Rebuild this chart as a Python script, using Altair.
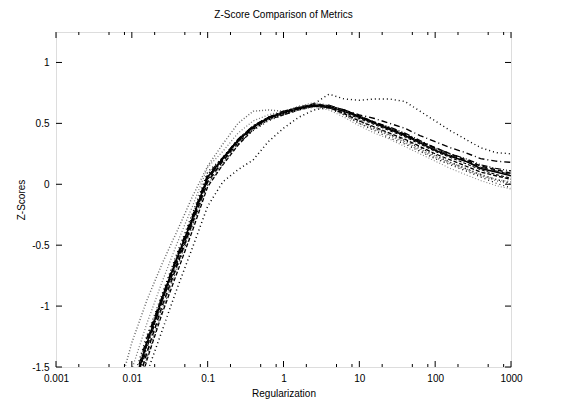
import altair as alt
import pandas as pd

# Regularization values (log-spaced)
reg = [0.00631, 0.01, 0.01585, 0.02512, 0.03981, 0.0631, 0.1, 0.1585, 0.2512,
       0.3981, 0.631, 1, 1.585, 2.512, 3.981, 6.31, 10, 15.85, 25.12, 39.81,
       63.1, 100, 158.5, 251.2, 398.1, 631.0, 1000]

m1 = [-2.15,-1.72,-1.30,-0.94,-0.60,-0.28,0.06,0.21,0.36,0.47,0.54,0.58,0.62,0.65,0.64,0.60,0.55,0.50,0.45,0.40,0.34,0.28,0.23,0.19,0.13,0.10,0.07]
m2 = [-2.25,-1.80,-1.38,-1.00,-0.66,-0.32,0.02,0.19,0.34,0.46,0.54,0.59,0.63,0.66,0.64,0.61,0.56,0.51,0.46,0.41,0.35,0.30,0.25,0.20,0.15,0.12,0.09]
m3 = [-2.30,-1.95,-1.55,-1.20,-0.85,-0.52,-0.18,0.02,0.12,0.20,0.35,0.46,0.55,0.61,0.63,0.58,0.52,0.46,0.41,0.36,0.30,0.24,0.18,0.13,0.08,0.04,0.01]
m4 = [-1.75,-1.30,-0.95,-0.65,-0.38,-0.10,0.15,0.33,0.50,0.60,0.61,0.60,0.63,0.66,0.63,0.57,0.50,0.45,0.40,0.34,0.28,0.22,0.17,0.12,0.07,0.03,0.00]
m5 = [-2.05,-1.64,-1.24,-0.90,-0.56,-0.24,0.10,0.22,0.37,0.48,0.55,0.59,0.63,0.66,0.74,0.70,0.69,0.70,0.70,0.68,0.60,0.52,0.44,0.37,0.30,0.26,0.25]
m6 = [-2.09,-1.68,-1.26,-0.92,-0.58,-0.26,0.08,0.22,0.37,0.48,0.55,0.60,0.63,0.65,0.64,0.61,0.57,0.54,0.50,0.46,0.40,0.35,0.30,0.26,0.21,0.19,0.18]
m7 = [-2.35,-1.88,-1.44,-1.06,-0.72,-0.38,-0.02,0.16,0.32,0.45,0.53,0.57,0.61,0.64,0.63,0.58,0.52,0.47,0.42,0.37,0.31,0.25,0.20,0.15,0.10,0.07,0.04]
m8 = [-1.95,-1.52,-1.14,-0.80,-0.48,-0.18,0.14,0.27,0.42,0.52,0.57,0.60,0.64,0.67,0.65,0.60,0.53,0.47,0.41,0.35,0.29,0.23,0.18,0.13,0.08,0.04,0.02]
m9 = [-2.21,-1.76,-1.34,-0.96,-0.64,-0.30,0.04,0.20,0.35,0.47,0.55,0.59,0.62,0.64,0.63,0.60,0.56,0.51,0.47,0.42,0.36,0.30,0.25,0.21,0.16,0.13,0.11]
m10 = [-2.29,-1.84,-1.42,-1.04,-0.68,-0.34,0.00,0.17,0.33,0.44,0.52,0.57,0.61,0.64,0.62,0.57,0.50,0.44,0.38,0.33,0.27,0.21,0.16,0.11,0.06,0.01,-0.03]
m11 = [-2.17,-1.74,-1.32,-0.96,-0.62,-0.30,0.04,0.21,0.36,0.47,0.55,0.60,0.63,0.65,0.63,0.59,0.54,0.49,0.44,0.39,0.33,0.27,0.22,0.17,0.12,0.08,0.05]
m12 = [-2.33,-1.86,-1.42,-1.02,-0.68,-0.34,0.00,0.17,0.34,0.45,0.53,0.58,0.61,0.63,0.61,0.55,0.48,0.42,0.37,0.31,0.25,0.19,0.13,0.08,0.03,-0.01,-0.04]
m13 = [-2.13,-1.70,-1.28,-0.92,-0.60,-0.28,0.06,0.22,0.37,0.48,0.55,0.59,0.62,0.65,0.65,0.61,0.56,0.51,0.46,0.41,0.35,0.29,0.24,0.19,0.14,0.11,0.08]

series_names = ["m1","m2","m3","m4","m5","m6","m7","m8","m9","m10","m11","m12","m13"]
series_vals = [m1,m2,m3,m4,m5,m6,m7,m8,m9,m10,m11,m12,m13]

x_major = [0.001, 0.01, 0.1, 1, 10, 100, 1000]
x_minor = [0.002, 0.005, 0.008, 0.02, 0.05, 0.08, 0.2, 0.5, 0.8, 2, 5, 8, 20, 50, 80, 200, 500, 800]
y_major = [-1.5, -1, -0.5, 0, 0.5, 1]

rows = []
for n, vals in zip(series_names, series_vals):
    for xv, yv in zip(reg, vals):
        rows.append({"series": n, "reg": xv, "z": yv})
df = pd.DataFrame(rows)

W, H = 455, 335

dash_range = [[], [5, 3], [1, 3], [1, 2], [1, 3], [6, 3, 1, 3], [4, 2], [1, 2],
              [6, 2, 1, 2, 1, 2], [1, 3], [3, 2], [1, 2], [8, 3]]
color_range = ["#000000", "#000000", "#000000", "#666666", "#000000", "#000000",
               "#000000", "#777777", "#000000", "#000000", "#000000", "#888888", "#000000"]
width_range = [1.6, 1, 1, 1, 1, 1, 1, 1, 1, 1, 1, 1, 1]

xscale = alt.Scale(type="log", domain=[0.001, 1000], nice=False)
yscale = alt.Scale(domain=[-1.5, 1.25], nice=False, zero=False)

lines = alt.Chart(df).mark_line(clip=True).encode(
    x=alt.X("reg:Q", scale=xscale, title="Regularization",
            axis=alt.Axis(values=x_major, labelExpr="toString(datum.value)",
                          ticks=False, domain=False, grid=False, labelFlush=False,
                          labelOverlap=False, labelPadding=6, titlePadding=5,
                          labelFontSize=10, titleFontSize=10, titleFontWeight="normal",
                          labelColor="black", titleColor="black",
                          labelFont="Liberation Sans", titleFont="Liberation Sans")),
    y=alt.Y("z:Q", scale=yscale, title="Z-Scores",
            axis=alt.Axis(values=y_major, labelExpr="toString(datum.value)",
                          ticks=False, domain=False, grid=False, labelPadding=7,
                          titlePadding=5, labelFontSize=10, titleFontSize=10,
                          titleFontWeight="normal", labelColor="black", titleColor="black",
                          labelFont="Liberation Sans", titleFont="Liberation Sans")),
    detail="series:N",
    strokeDash=alt.StrokeDash("series:N", scale=alt.Scale(domain=series_names, range=dash_range), legend=None),
    color=alt.Color("series:N", scale=alt.Scale(domain=series_names, range=color_range), legend=None),
    strokeWidth=alt.StrokeWidth("series:N", scale=alt.Scale(domain=series_names, range=width_range), legend=None),
)

xmaj_df = pd.DataFrame({"v": x_major})
xmin_df = pd.DataFrame({"v": x_minor})
ymaj_df = pd.DataFrame({"v": y_major})

def xticks(d, length):
    bot = alt.Chart(d).mark_rule(color="black", strokeWidth=1).encode(
        x=alt.X("v:Q", scale=xscale), y=alt.value(H), y2=alt.value(H - length))
    top = alt.Chart(d).mark_rule(color="black", strokeWidth=1).encode(
        x=alt.X("v:Q", scale=xscale), y=alt.value(0), y2=alt.value(length))
    return bot + top

yl = alt.Chart(ymaj_df).mark_rule(color="black", strokeWidth=1).encode(
    y=alt.Y("v:Q", scale=yscale), x=alt.value(0), x2=alt.value(6))
yr = alt.Chart(ymaj_df).mark_rule(color="black", strokeWidth=1).encode(
    y=alt.Y("v:Q", scale=yscale), x=alt.value(W), x2=alt.value(W - 6))

chart = alt.layer(lines, xticks(xmaj_df, 6), xticks(xmin_df, 3), yl, yr).properties(
    width=W, height=H,
    title=alt.Title("Z-Score Comparison of Metrics", fontSize=10, fontWeight="normal",
                    font="Liberation Sans", color="black", anchor="middle", offset=12),
    autosize=alt.AutoSizeParams(type="none"),
    padding={"left": 56, "top": 32, "right": 63, "bottom": 36},
).configure_view(stroke="black", strokeWidth=1).configure(background="white")

chart.save("out.html", embed_options={"renderer": "svg", "actions": False})
